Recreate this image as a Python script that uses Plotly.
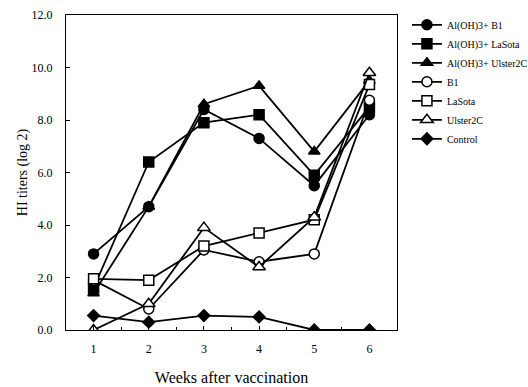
import plotly.graph_objects as go

weeks = [1, 2, 3, 4, 5, 6]
alb1 = [2.9, 4.7, 8.4, 7.3, 5.5, 8.2]
allasota = [1.6, 6.4, 7.9, 8.2, 5.9, 8.5]
alulster = [1.4, 4.7, 8.6, 9.3, 6.8, 9.5]
b1 = [1.9, 0.8, 3.05, 2.6, 2.9, 8.75]
lasota = [1.95, 1.9, 3.2, 3.7, 4.2, 9.35]
ulster = [0.0, 1.0, 3.9, 2.4, 4.3, 9.8]
control = [0.55, 0.3, 0.55, 0.5, 0.0, 0.0]

names = ["Al(OH)3+ B1", "Al(OH)3+ LaSota", "Al(OH)3+ Ulster2C", "B1", "LaSota", "Ulster2C", "Control"]
series = [alb1, allasota, alulster, b1, lasota, ulster, control]
symbols = ["circle", "square", "triangle-up", "circle-open", "square-open", "triangle-up-open", "diamond"]
sizes = [10, 10, 10, 10, 10, 11, 9]

fig = go.Figure()
for name, ys, sym, sz in zip(names, series, symbols, sizes):
    openm = "open" in sym
    fig.add_trace(go.Scatter(
        x=weeks, y=ys, name=name, mode="lines+markers",
        line=dict(color="black", width=1.8),
        marker=dict(symbol=sym.replace("-open", ""), size=sz,
                    color="white" if openm else "black",
                    line=dict(color="black", width=1.5)),
    ))

font_family = "Liberation Serif"
fig.update_layout(
    width=528, height=387,
    margin=dict(l=66, r=131, t=15, b=57, autoexpand=False),
    plot_bgcolor="white", paper_bgcolor="white",
    font=dict(family=font_family, color="black", size=11),
    showlegend=True,
    legend=dict(x=1.03, y=1.015, xanchor="left", yanchor="top",
                font=dict(size=10, family=font_family),
                tracegroupgap=0, itemwidth=30,
                bgcolor="rgba(0,0,0,0)"),
)
fig.update_xaxes(
    range=[0.5, 6.5], tickvals=weeks, ticktext=[str(w) for w in weeks],
    showline=True, linecolor="black", linewidth=1, mirror=True,
    ticks="inside", ticklen=4, tickcolor="black",
    minor=dict(tickvals=[1.5, 2.5, 3.5, 4.5, 5.5], ticks="inside", ticklen=3, tickcolor="black"),
    showgrid=False, zeroline=False, automargin=False,
    tickfont=dict(size=12), ticklabelstandoff=8,
    title=dict(text="Weeks after vaccination", font=dict(size=16), standoff=16),
)
fig.update_yaxes(
    range=[0, 12], tickvals=[0, 2, 4, 6, 8, 10, 12], tickformat=".1f",
    showline=True, linecolor="black", linewidth=1, mirror=True,
    ticks="inside", ticklen=4, tickcolor="black",
    showgrid=False, zeroline=False, automargin=False,
    tickfont=dict(size=12), ticklabelstandoff=10,
    title=dict(text="HI titers (log 2)", font=dict(size=14), standoff=0),
)
fig.write_html("out.html")
